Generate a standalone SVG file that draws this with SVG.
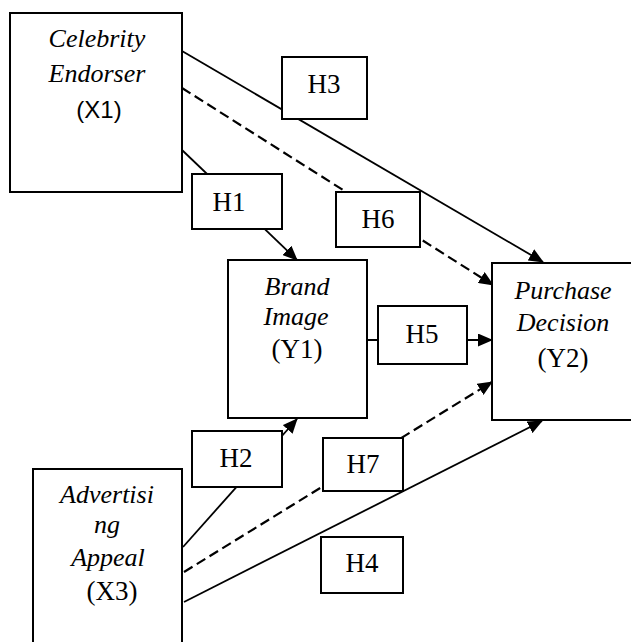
<svg xmlns="http://www.w3.org/2000/svg" width="631" height="642" viewBox="0 0 631 642">
<style>
.box{fill:#fff;stroke:#000;stroke-width:2}
.ln{fill:none;stroke:#000;stroke-width:1.8}
.dash{stroke-dasharray:10,5;stroke-width:2.2}
.it{font-style:italic;font-size:26px}
.rm{font-size:27px}
</style>
<defs>
<marker id="arr" markerUnits="userSpaceOnUse" markerWidth="15" markerHeight="13" refX="14" refY="6.5" orient="auto" viewBox="0 0 15 13">
<path d="M0,0 L15,6.5 L0,13 z" fill="#000"/>
</marker>
</defs>
<rect x="0" y="0" width="631" height="642" fill="#fff"/>
<g id="connectors">
<line class="ln" x1="182" y1="51" x2="543" y2="262" marker-end="url(#arr)"/>
<line class="ln dash" x1="182" y1="88" x2="493" y2="285" marker-end="url(#arr)"/>
<line class="ln" x1="182" y1="150" x2="297" y2="260" marker-end="url(#arr)"/>
<line class="ln" x1="367" y1="340" x2="492" y2="340" marker-end="url(#arr)"/>
<line class="ln" x1="183" y1="547" x2="297" y2="419" marker-end="url(#arr)"/>
<line class="ln dash" x1="184" y1="572" x2="492" y2="382" marker-end="url(#arr)"/>
<line class="ln" x1="184" y1="602" x2="542" y2="421" marker-end="url(#arr)"/>
</g>
<g font-family="Liberation Serif, serif" text-anchor="middle" fill="#000">
<g id="celebrity">
<rect class="box" x="10" y="13" width="172" height="179"/>
<text class="it" x="97" y="47">Celebrity</text>
<text class="it" x="97" y="82">Endorser</text>
<text x="99" y="118" font-family="Liberation Sans, sans-serif" font-size="24">(X1)</text>
</g>
<g id="brand">
<rect class="box" x="228" y="260" width="139" height="158"/>
<text class="it" x="297" y="295">Brand</text>
<text class="it" x="296" y="325">Image</text>
<text class="rm" x="297" y="358">(Y1)</text>
</g>
<g id="purchase">
<rect class="box" x="492" y="263" width="150" height="157"/>
<text class="it" x="563" y="299">Purchase</text>
<text class="it" x="563" y="331">Decision</text>
<text class="rm" x="563" y="367">(Y2)</text>
</g>
<g id="advertising">
<rect class="box" x="33" y="469" width="149" height="190"/>
<text class="it" x="107" y="503">Advertisi</text>
<text class="it" x="107" y="533">ng</text>
<text class="it" x="108" y="566">Appeal</text>
<text class="rm" x="112" y="600">(X3)</text>
</g>
<g class="rm">
<g id="h1"><rect class="box" x="192" y="174" width="90" height="55"/><text x="229" y="211">H1</text></g>
<g id="h2"><rect class="box" x="192" y="431" width="90" height="56"/><text x="236" y="467">H2</text></g>
<g id="h3"><rect class="box" x="282" y="57" width="85" height="62"/><text x="324" y="93">H3</text></g>
<g id="h4"><rect class="box" x="321" y="537" width="82" height="56"/><text x="362" y="572">H4</text></g>
<g id="h5"><rect class="box" x="378" y="306" width="89" height="58"/><text x="422" y="343">H5</text></g>
<g id="h6"><rect class="box" x="336" y="192" width="84" height="55"/><text x="378" y="228">H6</text></g>
<g id="h7"><rect class="box" x="323" y="438" width="80" height="53"/><text x="363" y="473">H7</text></g>
</g>
</g>
</svg>
